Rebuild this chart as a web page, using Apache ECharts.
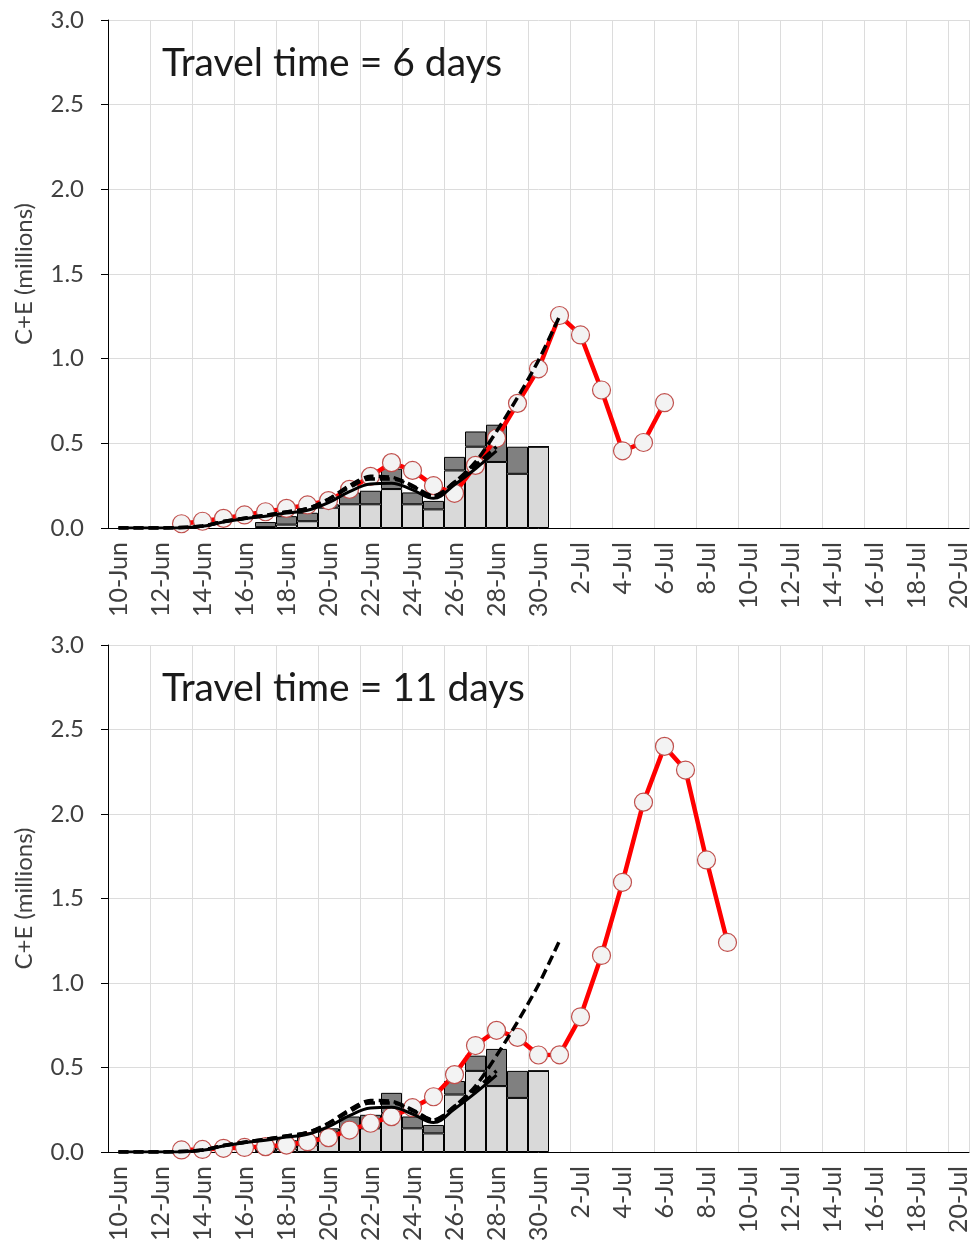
<!DOCTYPE html>
<html><head><meta charset="utf-8">
<script src="https://cdn.jsdelivr.net/npm/echarts@6/dist/echarts.min.js"></script>
<style>html,body{margin:0;padding:0;background:#fff}#c{width:974px;height:1245px}</style>
</head><body><div id="c"></div>
<script>
const categories = ['10-Jun','11-Jun','12-Jun','13-Jun','14-Jun','15-Jun','16-Jun','17-Jun','18-Jun','19-Jun',
  '20-Jun','21-Jun','22-Jun','23-Jun','24-Jun','25-Jun','26-Jun','27-Jun','28-Jun','29-Jun','30-Jun',
  '1-Jul','2-Jul','3-Jul','4-Jul','5-Jul','6-Jul','7-Jul','8-Jul','9-Jul','10-Jul','11-Jul','12-Jul',
  '13-Jul','14-Jul','15-Jul','16-Jul','17-Jul','18-Jul','19-Jul','20-Jul'];
const panelTitles = ['Travel time = 6 days', 'Travel time = 11 days'];
const yAxisName = 'C+E (millions)';

// observed bars (start at 17-Jun, index 7)
const barStart = 7;
const barLight = [0.005, 0.02, 0.04, 0.12, 0.14, 0.14, 0.23, 0.14, 0.11, 0.34, 0.48, 0.39, 0.32, 0.48];
const barDark  = [0.03, 0.05, 0.05, 0.02, 0.07, 0.08, 0.12, 0.07, 0.05, 0.08, 0.09, 0.22, 0.16, 0.0];

// black fitted curves (start at 10-Jun)
const blackSolid       = [0, 0, 0, 0.002, 0.01, 0.035, 0.055, 0.07, 0.088, 0.105, 0.15, 0.215, 0.26, 0.265, 0.225, 0.175, 0.255, 0.35, 0.455];
const blackDashedShort = [0, 0, 0, 0.003, 0.012, 0.038, 0.058, 0.075, 0.095, 0.115, 0.17, 0.24, 0.29, 0.29, 0.245, 0.19, 0.27, 0.37, 0.48];
const blackDashedLong  = [0, 0, 0, 0.003, 0.012, 0.038, 0.058, 0.075, 0.095, 0.115, 0.17, 0.25, 0.305, 0.30, 0.25, 0.19, 0.27, 0.39, 0.57, 0.77, 0.99, 1.25];

// red model series (start at 13-Jun, index 3)
const redStart = 3;
const redTop = [0.025, 0.04, 0.057, 0.077, 0.096, 0.116, 0.136, 0.162, 0.228, 0.305, 0.386, 0.34, 0.25, 0.205, 0.37, 0.53, 0.736, 0.94, 1.255, 1.14, 0.815, 0.456, 0.505, 0.74];
const redBottom = [0.012, 0.015, 0.022, 0.027, 0.032, 0.041, 0.061, 0.085, 0.13, 0.17, 0.209, 0.262, 0.327, 0.458, 0.63, 0.72, 0.678, 0.574, 0.575, 0.80, 1.163, 1.596, 2.07, 2.40, 2.26, 1.728, 1.24];

function place(start, vals) {
  const out = categories.map(() => null);
  vals.forEach((v, i) => { out[start + i] = v; });
  return out;
}

const FONT = 'Lato';
const grids = [
  {left: 108, right: 5, top: 20, height: 508},
  {left: 108, right: 5, top: 645, height: 507}
];
const xAxes = [], yAxes = [], series = [], titles = [];
[redTop, redBottom].forEach((red, p) => {
  xAxes.push({
    type: 'category', gridIndex: p, data: categories, boundaryGap: true,
    axisLine: {lineStyle: {color: '#000', width: 1}},
    axisTick: {interval: 1, length: 8, alignWithLabel: false, lineStyle: {color: '#000'}},
    axisLabel: {interval: 1, rotate: 90, fontSize: 25, fontFamily: FONT, color: '#404040', margin: 14},
    splitLine: {show: true, interval: 1, lineStyle: {color: '#dcdcdc', width: 1}}
  });
  yAxes.push({
    type: 'value', gridIndex: p, min: 0, max: 3, interval: 0.5,
    axisLine: {show: true, lineStyle: {color: '#000', width: 1}},
    axisTick: {show: true, length: 7, lineStyle: {color: '#000'}},
    axisLabel: {formatter: v => v.toFixed(1), fontSize: 24, fontFamily: FONT, color: '#404040', margin: 24},
    splitLine: {show: true, lineStyle: {color: '#dcdcdc', width: 1}},
    name: yAxisName, nameLocation: 'middle', nameGap: 72,
    nameTextStyle: {fontSize: 24, fontFamily: FONT, color: '#404040'}
  });
  const common = {xAxisIndex: p, yAxisIndex: p};
  series.push({...common, type: 'bar', stack: 'obs' + p, data: place(barStart, barLight), barCategoryGap: '0%',
    itemStyle: {color: '#d9d9d9', borderColor: '#000', borderWidth: 1}, silent: true});
  series.push({...common, type: 'bar', stack: 'obs' + p, data: place(barStart, barDark), barCategoryGap: '0%',
    itemStyle: {color: '#808080', borderColor: '#000', borderWidth: 1}, silent: true});
  series.push({...common, type: 'line', data: place(redStart, red), symbol: 'circle', symbolSize: 18, showAllSymbol: true,
    lineStyle: {color: '#ff0000', width: 4.5}, itemStyle: {color: '#f3f3f3', borderColor: '#c0504d', borderWidth: 1.2}, z: 3});
  series.push({...common, type: 'line', data: place(0, blackSolid), symbol: 'none', smooth: 0.4,
    lineStyle: {color: '#000', width: 3}, z: 4});
  series.push({...common, type: 'line', data: place(0, blackDashedShort), symbol: 'none', smooth: 0.4,
    lineStyle: {color: '#000', width: 3.5, type: [10, 5]}, z: 4});
  series.push({...common, type: 'line', data: place(0, blackDashedLong), symbol: 'none', smooth: 0.3,
    lineStyle: {color: '#000', width: 3.5, type: [10, 5]}, z: 4});
  titles.push({text: panelTitles[p], left: 162, top: 44 + p * 625, padding: 0,
    textStyle: {fontSize: 39, fontFamily: FONT, fontWeight: 'normal', color: '#1a1a1a'}});
});

const chart = echarts.init(document.getElementById('c'), null, {renderer: 'canvas'});
chart.setOption({
  animation: false,
  backgroundColor: '#fff',
  title: titles,
  grid: grids,
  xAxis: xAxes,
  yAxis: yAxes,
  series: series
});
</script>
</body></html>
